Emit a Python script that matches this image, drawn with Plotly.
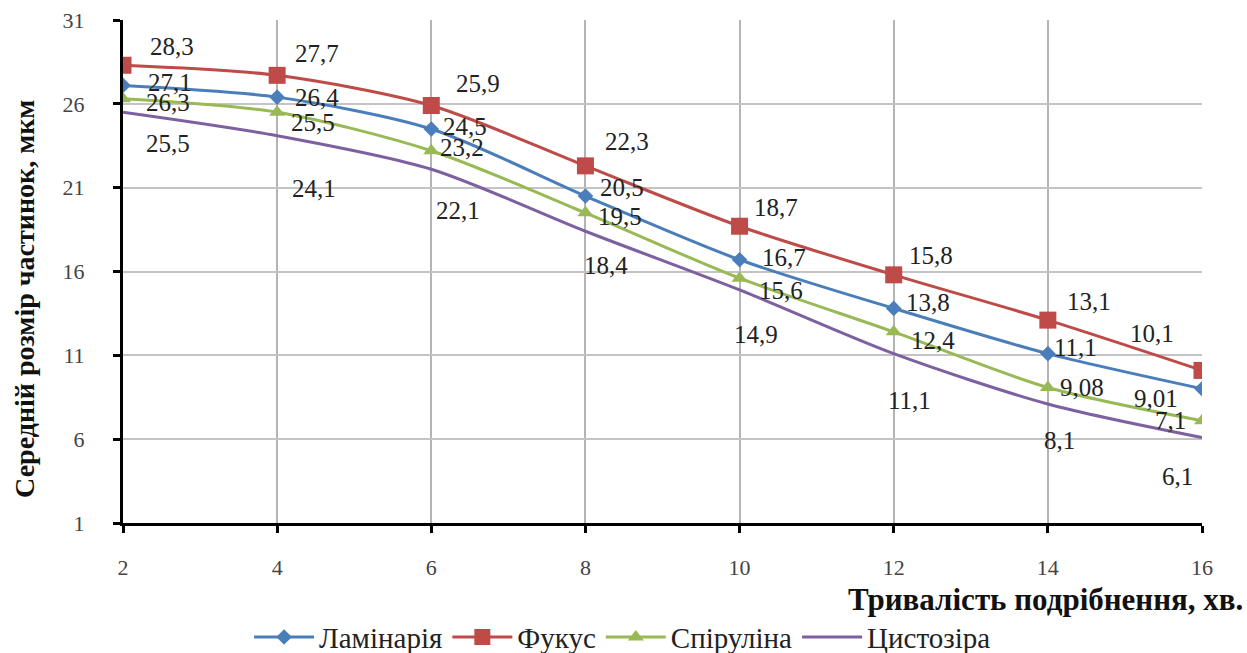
import plotly.graph_objects as go

# Grinding time, min
minutes = [2, 4, 6, 8, 10, 12, 14, 16]

# Mean particle size, µm
laminaria = [27.1, 26.4, 24.5, 20.5, 16.7, 13.8, 11.1, 9.01]
fucus = [28.3, 27.7, 25.9, 22.3, 18.7, 15.8, 13.1, 10.1]
spirulina = [26.3, 25.5, 23.2, 19.5, 15.6, 12.4, 9.08, 7.1]
cystoseira = [25.5, 24.1, 22.1, 18.4, 14.9, 11.1, 8.1, 6.1]

series_names = ["Ламінарія", "Фукус", "Спіруліна", "Цистозіра"]

# Pixel offsets of the value labels (dx right, dy down) for each series
lam_dx = [47, 40, 34, 37, 44, 34, 28, -46]
lam_dy = [-3, 0, -2, -9, -2, -6, -6, 10]
fuc_dx = [49, 40, 47, 42, 36, 37, 41, -50]
fuc_dy = [-19, -22, -22, -24, -19, -19, -19, -37]
spi_dx = [45, 36, 31, 35, 41, 39, 34, -32]
spi_dy = [4, 10, -3, 4, 12, 9, 0, 0]
cys_dx = [45, 37, 27, 21, 16, 16, 12, -25]
cys_dy = [31, 53, 41, 34, 45, 47, 37, 39]

SERIF = "'Liberation Serif', 'DejaVu Serif', serif"

styles = [
    (laminaria, "#4A7EBB", dict(symbol="diamond", size=12), lam_dx, lam_dy),
    (fucus, "#BE4B48", dict(symbol="square", size=17), fuc_dx, fuc_dy),
    (spirulina, "#98B954", dict(symbol="triangle-up", size=14), spi_dx, spi_dy),
    (cystoseira, "#7D60A0", None, cys_dx, cys_dy),
]

fig = go.Figure()
annotations = []

for name, (vals, color, marker, dxs, dys) in zip(series_names, styles):
    mode = "lines+markers" if marker else "lines"
    fig.add_trace(go.Scatter(
        x=minutes, y=vals, name=name, mode=mode,
        line=dict(color=color, width=3, shape="spline", smoothing=0.8),
        marker=dict(color=color, **marker) if marker else None,
    ))
    for xv, yv, dx, dy in zip(minutes, vals, dxs, dys):
        annotations.append(dict(
            x=xv, y=yv, xref="x", yref="y",
            text=f"{yv:g}".replace(".", ","),
            showarrow=False, xshift=dx, yshift=-dy,
            font=dict(family=SERIF, size=25, color="#222222"),
        ))

# Axis titles
annotations.append(dict(
    xref="paper", yref="paper", x=1.04, y=-0.153,
    xanchor="right", yanchor="middle", showarrow=False,
    text="<b>Тривалість подрібнення, хв.</b>",
    font=dict(family=SERIF, size=31, color="#111111"),
))
annotations.append(dict(
    xref="paper", yref="paper", x=-0.092, y=0.445,
    xanchor="center", yanchor="middle", showarrow=False, textangle=-90,
    text="<b>Середній розмір частинок, мкм</b>",
    font=dict(family=SERIF, size=28, color="#111111"),
))

fig.update_layout(
    width=1247, height=653,
    margin=dict(l=123, r=45, t=20, b=130, autoexpand=False),
    paper_bgcolor="white", plot_bgcolor="white",
    annotations=annotations,
    showlegend=True,
    legend=dict(
        orientation="h", x=0.463, xanchor="center", y=-0.227, yanchor="middle",
        font=dict(family=SERIF, size=29, color="#222222"),
        itemwidth=60, tracegroupgap=0, bgcolor="rgba(0,0,0,0)",
    ),
)

fig.update_xaxes(
    range=[2, 16], tick0=2, dtick=2,
    showgrid=True, gridcolor="#b4b4b4", gridwidth=1.5,
    showline=True, linecolor="black", linewidth=3,
    ticks="outside", ticklen=7, tickwidth=3, tickcolor="black",
    ticklabelstandoff=16,
    tickfont=dict(family=SERIF, size=22, color="#444444"),
    zeroline=False,
)
fig.update_yaxes(
    range=[1, 31], tick0=1, dtick=5,
    showgrid=True, gridcolor="#c4c4c4", gridwidth=2,
    showline=True, linecolor="black", linewidth=3,
    ticks="outside", ticklen=7, tickwidth=3, tickcolor="black",
    ticklabelstandoff=24,
    tickfont=dict(family=SERIF, size=22, color="#444444"),
    zeroline=False,
)

fig.write_html("out.html")
